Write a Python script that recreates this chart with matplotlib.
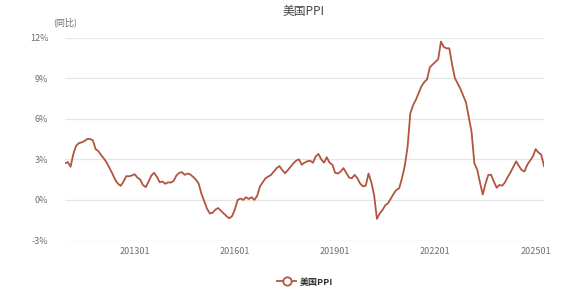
import matplotlib
matplotlib.use("Agg")
import matplotlib.pyplot as plt
from matplotlib.lines import Line2D
import pandas as pd

plt.rcParams['font.family'] = ['Noto Sans CJK SC', 'DejaVu Sans']

# Monthly US PPI YoY (%), 2010-12 .. 2025-04
start_month = "2010-12"
ppi_yoy = [
    2.7, 2.8, 2.45, 3.4, 4.0, 4.2, 4.25, 4.35, 4.5, 4.5,      # m0-9
    4.4, 3.75, 3.6, 3.3, 3.05, 2.75, 2.35, 1.95, 1.5, 1.2,    # m10-19
    1.04, 1.35, 1.75, 1.75, 1.8, 1.9, 1.65, 1.5, 1.1, 0.94,   # m20-29
    1.35, 1.8, 2.0, 1.7, 1.3, 1.36, 1.19, 1.3, 1.28, 1.4,     # m30-39
    1.8, 2.0, 2.05, 1.85, 1.95, 1.88, 1.7, 1.5, 1.2, 0.45,    # m40-49
    -0.1, -0.65, -1.0, -0.95, -0.72, -0.6, -0.8, -1.0, -1.2, -1.36,  # m50-59
    -1.2, -0.7, 0.0, 0.1, 0.0, 0.2, 0.07, 0.2, 0.0, 0.3,      # m60-69
    1.0, 1.3, 1.6, 1.73, 1.85, 2.1, 2.35, 2.5, 2.2, 1.97,     # m70-79
    2.2, 2.45, 2.7, 2.9, 3.0, 2.6, 2.75, 2.85, 2.9, 2.75,     # m80-89
    3.2, 3.4, 3.0, 2.75, 3.15, 2.75, 2.6, 2.0, 1.95, 2.1,     # m90-99
    2.35, 2.0, 1.65, 1.6, 1.85, 1.6, 1.2, 1.0, 1.05, 1.95,    # m100-109
    1.3, 0.35, -1.4, -1.0, -0.75, -0.4, -0.25, 0.1, 0.45, 0.74,  # m110-119
    0.86, 1.6, 2.5, 3.9, 6.4, 7.0, 7.4, 7.9, 8.4, 8.7,        # m120-129
    8.9, 9.8, 10.0, 10.2, 10.4, 11.7, 11.3, 11.2, 11.2, 10.0, # m130-139
    9.0, 8.6, 8.2, 7.7, 7.2, 6.1, 5.0, 2.7, 2.25, 1.3,        # m140-149
    0.4, 1.2, 1.85, 1.85, 1.35, 0.9, 1.1, 1.05, 1.3, 1.7,     # m150-159
    2.05, 2.45, 2.85, 2.5, 2.2, 2.1, 2.6, 2.9, 3.2, 3.75,     # m160-169
    3.5, 3.35, 2.5,                                           # m170-172
]
tick_labels = ["201301", "201601", "201901", "202201", "202501"]
y_ticks = [-3, 0, 3, 6, 9, 12]
series_name = "美国PPI"
title_text = "美国PPI"
y_unit = "(同比)"

months = pd.period_range(start=start_month, periods=len(ppi_yoy), freq="M")
month_str = [p.strftime("%Y%m") for p in months]
idx = list(range(len(ppi_yoy)))
tick_pos = [month_str.index(t) for t in tick_labels]

line_color = "#B2553E"
fig = plt.figure(figsize=(5.75, 2.95), dpi=100)
ax = fig.add_axes([65/575, 1-240.5/295, (544-65)/575, (240.5-37.5)/295])

for yv in y_ticks:
    ax.axhline(yv, color="#e6e6e6", lw=0.9, zorder=0)
ax.plot(idx, ppi_yoy, color=line_color, lw=1.3, zorder=3)

ax.set_xlim(0, len(ppi_yoy) - 1)
ax.set_ylim(-3, 12)
ax.set_yticks(y_ticks)
ax.set_yticklabels([f"{v}%" for v in y_ticks])
ax.set_xticks(tick_pos)
ax.set_xticklabels(tick_labels)
ax.tick_params(axis="both", length=0, labelsize=6.5, colors="#6e6e6e")
ax.tick_params(axis="y", pad=12)
ax.tick_params(axis="x", pad=5)
for s in ax.spines.values():
    s.set_visible(False)

fig.text(304/575, 1-11/295, title_text, ha="center", va="center",
         fontsize=8.5, color="#444444")
fig.text(65/575, 1-22/295, y_unit, ha="center", va="center",
         fontsize=6.5, color="#6e6e6e")

# legend
leg_handle = Line2D([0], [0], color=line_color, lw=1.3, marker="o",
                    markersize=6, markerfacecolor="white",
                    markeredgecolor=line_color, markeredgewidth=1.3)
fig.legend([leg_handle], [series_name], loc="center",
           bbox_to_anchor=(305/575, 1-282/295), frameon=False,
           handlelength=2.2, handletextpad=0.4,
           prop={"size": 6.5, "weight": "bold",
                 "family": ["Noto Sans CJK SC", "DejaVu Sans"]},
           labelcolor="#333333")

fig.savefig("out.png", dpi=100, facecolor="white")
